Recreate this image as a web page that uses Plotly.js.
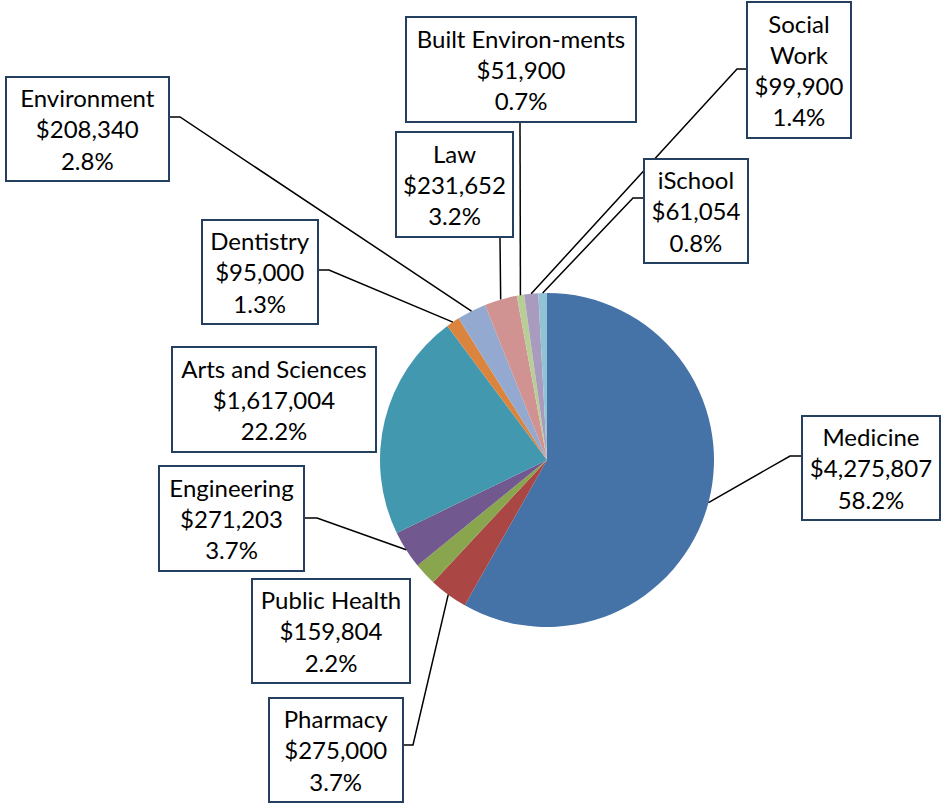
<!DOCTYPE html>
<html>
<head>
<meta charset="utf-8">
<script src="https://cdn.plot.ly/plotly-3.0.1.min.js"></script>
<style>
html, body { margin: 0; padding: 0; background: #fff; }
#Grafico { width: 942px; height: 804px; }
</style>
</head>
<body>
<div id="Grafico"></div>
<script>
let escuelas = ['Medicine', 'Pharmacy', 'Public Health', 'Engineering', 'Arts and Sciences',
	'Dentistry', 'Environment', 'Law', 'Built Environ-ments', 'Social Work', 'iSchool'];
let montos = [4275807, 275000, 159804, 271203, 1617004, 95000, 208340, 231652, 51900, 99900, 61054];
let porcentajes = ['58.2%', '3.7%', '2.2%', '3.7%', '22.2%', '1.3%', '2.8%', '3.2%', '0.7%', '1.4%', '0.8%'];
let colores = ['#4572A7', '#AA4643', '#89A54E', '#71588F', '#4198AF', '#DB843D',
	'#93A9CF', '#D19392', '#B9CD96', '#A99BBD', '#91C3D5'];

let ancho = 942;
let alto = 804;
// centro y radio del pastel, en pixeles
let cx = 547, cy = 460, radio = 167;

// cajas de etiquetas en pixeles: [izq, arriba, der, abajo]
let cajas = [
	[801, 415, 941, 521],
	[268, 697, 404, 803],
	[251, 578, 411, 684],
	[158, 465, 305, 572],
	[171, 346, 377, 453],
	[201, 219, 319, 325],
	[5, 76, 170, 182],
	[395, 131, 514, 238],
	[405, 16, 637, 123],
	[746, 1, 852, 139],
	[643, 158, 749, 264]
];
// lineas guia: [x inicio, y inicio, x codo, y codo] o null
let guias = [
	[801, 456, 790, 456],
	[404, 745, 413, 745],
	null,
	[305, 518, 317, 518],
	null,
	[319, 270, 329, 270],
	[170, 117, 180, 117],
	[500, 238, 500, 238],
	[520, 123, 520, 123],
	[746, 69, 737, 69],
	[643, 198, 633, 198]
];

function px(x) { return x / ancho; }
function py(y) { return 1 - y / alto; }

let total = montos.reduce((a, b) => a + b, 0);

let pastel = {
	type: 'pie',
	labels: escuelas,
	values: montos,
	sort: false,
	direction: 'clockwise',
	rotation: 0,
	textinfo: 'none',
	hoverinfo: 'label+value+percent',
	marker: { colors: colores, line: { width: 0 } },
	domain: {
		x: [px(cx - radio), px(cx + radio)],
		y: [py(cy + radio), py(cy - radio)]
	},
	showlegend: false
};

let anotaciones = [];
let formas = [];
let acumulado = 0;
for (let i = 0; i < escuelas.length; i++)
{
	let medio = (acumulado + montos[i] / 2) / total;
	acumulado += montos[i];
	let ang = medio * 2 * Math.PI;
	let bx = cx + radio * Math.sin(ang);
	let by = cy - radio * Math.cos(ang);

	let c = cajas[i];
	let nombre = escuelas[i] === 'Social Work' ? 'Social<br>Work' : escuelas[i];
	anotaciones.push({
		xref: 'paper', yref: 'paper',
		x: px((c[0] + c[2]) / 2), y: py((c[1] + c[3]) / 2),
		xanchor: 'center', yanchor: 'middle',
		text: nombre + '<br>$' + montos[i].toLocaleString('en-US') + '<br>' + porcentajes[i],
		showarrow: false,
		align: 'center',
		width: c[2] - c[0] - 4,
		height: c[3] - c[1] - 4,
		borderpad: 0,
		borderwidth: 2,
		bordercolor: '#243F60',
		bgcolor: '#ffffff',
		font: { family: 'Lato, sans-serif', size: 24, color: '#000000' }
	});

	let g = guias[i];
	if (g)
	{
		formas.push({
			type: 'path', xref: 'paper', yref: 'paper',
			path: 'M ' + px(g[0]) + ' ' + py(g[1]) + ' L ' + px(g[2]) + ' ' + py(g[3]) +
				' L ' + px(bx) + ' ' + py(by),
			line: { color: '#000000', width: 1.5 }
		});
	}
}

let layout = {
	width: ancho,
	height: alto,
	margin: { l: 0, r: 0, t: 0, b: 0 },
	paper_bgcolor: '#ffffff',
	showlegend: false,
	annotations: anotaciones,
	shapes: formas
};

let contenedor = document.getElementById('Grafico');
Plotly.newPlot(contenedor, [pastel], layout, { displayModeBar: false, staticPlot: true });
</script>
</body>
</html>
